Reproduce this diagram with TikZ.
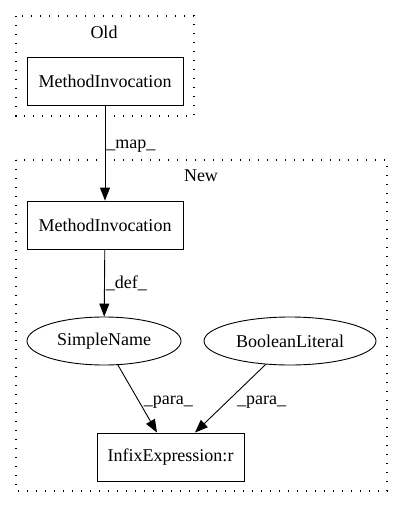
\documentclass[tikz,border=0pt]{standalone}
\usepackage{fontspec}
\setmainfont{Liberation Serif}
\usetikzlibrary{shapes.geometric,arrows.meta}
\begin{document}
\begin{tikzpicture}[x=1pt,y=-1pt,font=\fontsize{18pt}{20pt}\selectfont,
  cluster/.style={draw,line width=1.3pt,dash pattern=on 1.3pt off 7.7pt},
  boxnode/.style={draw,line width=0.9pt,minimum width=156pt,minimum height=48pt,inner sep=0pt},
  ellnode/.style={draw,ellipse,line width=0.9pt,inner sep=0pt},
  edge/.style={draw,line width=0.9pt,-{Triangle[length=13pt,width=10pt]}},
  lbl/.style={inner sep=0pt}]
\useasboundingbox (0,0) rectangle (403,508);
\draw[cluster] (16,16) rectangle (194,116);
\node[lbl] (oldlbl) at (104,32) {Old};
\draw[cluster] (16,160) rectangle (387,491);
\node[lbl] (newlbl) at (201,176) {New};
\node[boxnode] (m1) at (105,81) {MethodInvocation};
\node[boxnode] (m2) at (105,225) {MethodInvocation};
\node[ellnode,minimum width=154pt,minimum height=48pt] (sn) at (104,341) {SimpleName};
\node[ellnode,minimum width=172pt,minimum height=48pt] (bl) at (290,341) {BooleanLiteral};
\node[draw,line width=0.9pt,minimum width=147pt,minimum height=48pt,inner sep=0pt] (ie) at (170.5,457) {InfixExpression:r};
\draw[edge] (m1) -- (m2) node[lbl,pos=0.43,right=1pt] {\_map\_};
\draw[edge] (m2) -- (sn) node[lbl,midway,right=1pt] {\_def\_};
\draw[edge] (sn) -- (ie.north -| 157,0) node[lbl,pos=0.55,right=4pt] {\_para\_};
\draw[edge] (bl) -- (ie.north -| 195,0) node[lbl,pos=0.55,right=10pt] {\_para\_};
\end{tikzpicture}
\end{document}
